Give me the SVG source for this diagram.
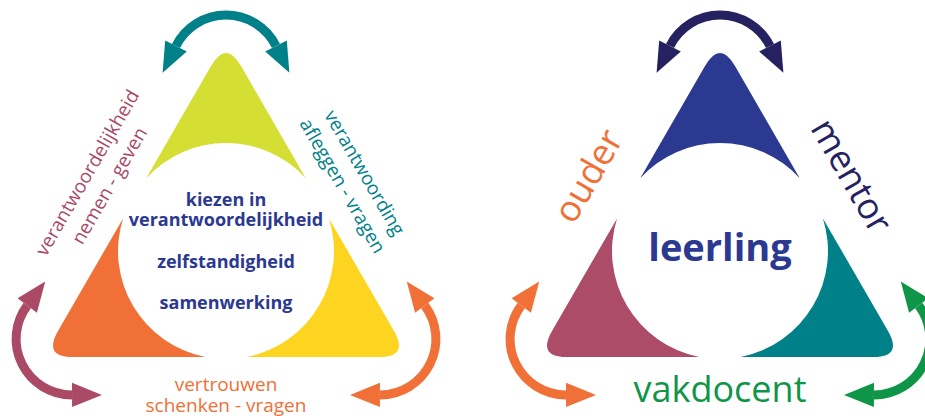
<svg xmlns="http://www.w3.org/2000/svg" width="925" height="416" viewBox="0 0 925 416">
  <style>
    .lbl { font-family: "Open Sans", "Noto Sans", "Liberation Sans", sans-serif; text-anchor: middle; }
    .bold { font-weight: bold; }
    .arc { fill: none; stroke-width: 9; }
  </style>
  <defs>
    <g id="arrowShape">
      <path class="arc" d="M -50 -25 A 55.9 55.9 0 0 1 50 -25"/>
      <polygon points="-63.4,1.8 -39.2,-19.6 -60.8,-30.4" stroke="none"/>
      <polygon points="63.4,1.8 39.2,-19.6 60.8,-30.4" stroke="none"/>
    </g>
  </defs>
  <rect width="925" height="416" fill="#ffffff"/>

  <!-- LEFT DIAGRAM -->
  <g id="left-diagram">
    <g id="left-top-piece">
      <path fill="#D5DE32" d="M 146.25 178.2 L 211 66 Q 226 40 241 66 L 305.75 178.2 A 108 108 0 0 0 146.25 178.2 Z"/>
    </g>
    <g id="left-bl-piece">
      <path fill="#F07037" d="M 123.05 218.4 L 58 331 Q 43 357 73 357 L 205.3 357 A 108 108 0 0 1 123.05 218.4 Z"/>
    </g>
    <g id="left-br-piece">
      <path fill="#FDD41F" d="M 328.95 218.4 L 394 331 Q 409 357 379 357 L 246.7 357 A 108 108 0 0 0 328.95 218.4 Z"/>
    </g>
    <g id="left-center" fill="#2B3990">
      <text class="lbl bold" x="226" y="206" font-size="18">kiezen in</text>
      <text class="lbl bold" x="226" y="226" font-size="18">verantwoordelijkheid</text>
      <text class="lbl bold" x="226" y="268" font-size="18">zelfstandigheid</text>
      <text class="lbl bold" x="226" y="309" font-size="18">samenwerking</text>
    </g>
    <g id="left-label-left" fill="#A94968">
      <text class="lbl" font-size="19" transform="translate(93,176) rotate(-60)">verantwoordelijkheid</text>
      <text class="lbl" font-size="19" transform="translate(115,189) rotate(-60)">nemen - geven</text>
    </g>
    <g id="left-label-right" fill="#00818A">
      <text class="lbl" font-size="19" transform="translate(359,176) rotate(60)">verantwoording</text>
      <text class="lbl" font-size="19" transform="translate(337,189) rotate(60)">afleggen - vragen</text>
    </g>
    <g id="left-label-bottom" fill="#F07037">
      <text class="lbl" font-size="19" x="226" y="391">vertrouwen</text>
      <text class="lbl" font-size="19" x="226" y="412">schenken - vragen</text>
    </g>
  </g>

  <!-- RIGHT DIAGRAM -->
  <g id="right-diagram">
    <g id="right-top-piece">
      <path fill="#2B3990" d="M 640.25 178.2 L 705 66 Q 720 40 735 66 L 799.75 178.2 A 108 108 0 0 0 640.25 178.2 Z"/>
    </g>
    <g id="right-bl-piece">
      <path fill="#AD4C68" d="M 617.05 218.4 L 552 331 Q 537 357 567 357 L 699.3 357 A 108 108 0 0 1 617.05 218.4 Z"/>
    </g>
    <g id="right-br-piece">
      <path fill="#008088" d="M 822.95 218.4 L 888 331 Q 903 357 873 357 L 740.7 357 A 108 108 0 0 0 822.95 218.4 Z"/>
    </g>
    <g id="leerling">
      <text class="lbl bold" x="720" y="261" font-size="38" fill="#2B3990">leerling</text>
    </g>
    <g id="ouder">
      <text class="lbl" font-size="36" fill="#F07037" transform="translate(599,182) rotate(-60)">ouder</text>
    </g>
    <g id="mentor">
      <text class="lbl" font-size="36" fill="#262262" transform="translate(841,182) rotate(60)">mentor</text>
    </g>
    <g id="vakdocent">
      <text class="lbl" font-size="36" fill="#0F9548" x="720" y="402">vakdocent</text>
    </g>
  </g>

  <!-- CONNECTORS (double-headed curved arrows) -->
  <g id="connectors">
    <use href="#arrowShape" fill="#00818A" stroke="#00818A" transform="translate(226,71)"/>
    <use href="#arrowShape" fill="#AA4A67" stroke="#AA4A67" transform="translate(72,339) rotate(-116.6)"/>
    <use href="#arrowShape" fill="#F07037" stroke="#F07037" transform="translate(380,339) rotate(116.6)"/>
    <use href="#arrowShape" fill="#262262" stroke="#262262" transform="translate(720,71)"/>
    <use href="#arrowShape" fill="#F07037" stroke="#F07037" transform="translate(566,339) rotate(-116.6)"/>
    <use href="#arrowShape" fill="#0F9548" stroke="#0F9548" transform="translate(874,339) rotate(116.6)"/>
  </g>
</svg>
